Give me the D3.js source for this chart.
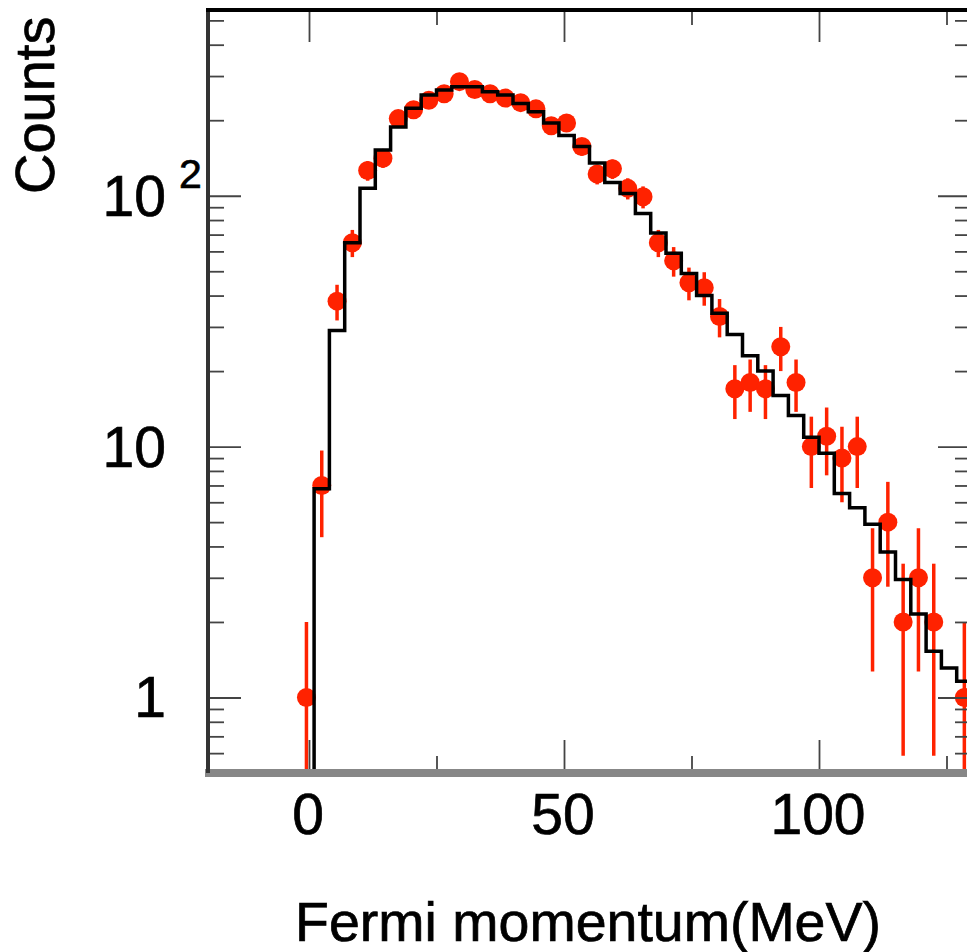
<!DOCTYPE html>
<html>
<head>
<meta charset="utf-8">
<script src="https://cdn.jsdelivr.net/npm/d3@7"></script>
<style>
  body { margin: 0; background: #fff; }
  svg { display: block; }
  text { font-family: "Liberation Sans", Arial, Helvetica, sans-serif; fill: #000; stroke: #000; stroke-width: 0.7; }
</style>
</head>
<body>
<svg id="chart" width="967" height="952"></svg>
<script>
const width = 967;
const height = 952;

// lower edge of each 3 MeV bin
const binLow = [-2, 1, 4, 7, 10, 13, 16, 19, 22, 25, 28, 31, 34, 37, 40, 43, 46, 49, 52, 55, 58, 61,
  64, 67, 70, 73, 76, 79, 82, 85, 88, 91, 94, 97, 100, 103, 106, 109, 112, 115, 118, 121, 124, 127];
const binWidth = 3;

// measured counts (red points, Poisson errors)
const dataCounts = [1, 7, 38, 65, 126, 141, 203, 220, 240, 255, 285, 265, 255, 245, 235, 222, 190,
  195, 157, 122, 128, 107, 99, 65, 55, 45, 43, 33, 17, 18, 17, 25, 18, 10, 11, 9, 10, 3, 5, 2, 3, 2, 0, 1];

// simulation (black histogram)
const simCounts = [0, 6.8, 29, 65, 107, 152, 188, 223, 252, 264, 272, 272, 260, 252, 233, 216, 195,
  174, 157, 135, 113, 102, 85, 71, 59, 49, 40, 34, 28, 23, 20, 16, 13.3, 10.9, 9.4, 6.5, 5.7, 4.9, 3.8,
  2.95, 2.15, 1.53, 1.31, 1.16];

const xTicksMajor = [0, 50, 100];
const xTicksMinor = [25, 75, 125];
const yTicksMajor = [1, 10, 100];
const yTicksMinor = [0.6, 0.7, 0.8, 0.9, 2, 3, 4, 5, 6, 7, 8, 9, 20, 30, 40, 50, 60, 70, 80, 90,
  200, 300, 400, 500];

const frame = { left: 207, right: 972, top: 10, bottom: 773 };

const svg = d3.select("#chart");

/* SCALES */
const x = d3.scaleLinear().domain([-20, 130]).range([frame.left, frame.right]);
const y = d3.scaleLog().domain([0.5, 550]).range([frame.bottom, frame.top]);

function yPos(v) {
  return v > 0 ? y(v) : frame.bottom + 40;
}

svg.append("defs").append("clipPath").attr("id", "plot-clip")
  .append("rect")
  .attr("x", frame.left).attr("y", frame.top)
  .attr("width", frame.right - frame.left)
  .attr("height", frame.bottom - frame.top);

const plot = svg.append("g").attr("clip-path", "url(#plot-clip)");

/* DATA POINTS */
const pts = binLow.map((lo, i) => ({ x: lo + binWidth / 2, n: dataCounts[i] })).filter(d => d.n > 0);

plot.append("g").attr("id", "errors")
  .selectAll("line")
  .data(pts)
  .enter()
  .append("line")
  .attr("x1", d => x(d.x))
  .attr("x2", d => x(d.x))
  .attr("y1", d => yPos(d.n - Math.sqrt(d.n)))
  .attr("y2", d => yPos(d.n + Math.sqrt(d.n)))
  .attr("stroke", "#ff2200")
  .attr("stroke-width", 3.5);

plot.append("g").attr("id", "points")
  .selectAll("circle")
  .data(pts)
  .enter()
  .append("circle")
  .attr("cx", d => x(d.x))
  .attr("cy", d => y(d.n))
  .attr("r", 9.5)
  .attr("fill", "#ff2200");

/* HISTOGRAM */
const steps = binLow.map((lo, i) => [lo, simCounts[i]]);
steps.push([binLow[binLow.length - 1] + binWidth, simCounts[simCounts.length - 1]]);

const stepLine = d3.line()
  .x(d => x(d[0]))
  .y(d => yPos(d[1]))
  .curve(d3.curveStepAfter);

plot.append("path")
  .attr("d", stepLine(steps))
  .attr("fill", "none")
  .attr("stroke", "#000")
  .attr("stroke-width", 3.5);

/* AXES */
function tickAxis(axis, tx, ty) {
  const g = svg.append("g")
    .attr("transform", "translate(" + tx + "," + ty + ")")
    .call(axis);
  g.select(".domain").remove();
  g.selectAll("line").attr("stroke", "#444").attr("stroke-width", 1.8);
  g.selectAll("text").remove();
  return g;
}

tickAxis(d3.axisLeft(y).tickValues(yTicksMajor).tickSize(-34), frame.left, 0);
tickAxis(d3.axisLeft(y).tickValues(yTicksMinor).tickSize(-17), frame.left, 0);
tickAxis(d3.axisRight(y).tickValues(yTicksMajor).tickSize(-34), frame.right, 0);
tickAxis(d3.axisRight(y).tickValues(yTicksMinor).tickSize(-17), frame.right, 0);
tickAxis(d3.axisBottom(x).tickValues(xTicksMajor).tickSize(-33), 0, frame.bottom);
tickAxis(d3.axisBottom(x).tickValues(xTicksMinor).tickSize(-17), 0, frame.bottom);
tickAxis(d3.axisTop(x).tickValues(xTicksMajor).tickSize(-32), 0, frame.top);
tickAxis(d3.axisTop(x).tickValues(xTicksMinor).tickSize(-15), 0, frame.top);

// frame lines
svg.append("line")
  .attr("x1", frame.left - 2).attr("x2", frame.right)
  .attr("y1", frame.bottom).attr("y2", frame.bottom)
  .attr("stroke", "#878787").attr("stroke-width", 8);
svg.append("line")
  .attr("x1", frame.left + 1).attr("x2", frame.left + 1)
  .attr("y1", frame.top).attr("y2", frame.bottom)
  .attr("stroke", "#333").attr("stroke-width", 4);
svg.append("line")
  .attr("x1", frame.left - 1).attr("x2", frame.right)
  .attr("y1", frame.top).attr("y2", frame.top)
  .attr("stroke", "#000").attr("stroke-width", 4);
svg.append("line")
  .attr("x1", frame.right).attr("x2", frame.right)
  .attr("y1", frame.top).attr("y2", frame.bottom)
  .attr("stroke", "#333").attr("stroke-width", 4);

/* TICK LABELS */
svg.append("g").selectAll("text")
  .data(xTicksMajor)
  .enter()
  .append("text")
  .attr("x", d => x(d) - 1)
  .attr("y", 834)
  .attr("text-anchor", "middle")
  .attr("font-size", 57)
  .text(d => d);

const yLabels = svg.append("g");
yTicksMajor.forEach(v => {
  const t = yLabels.append("text")
    .attr("x", 166)
    .attr("y", y(v) + 20)
    .attr("text-anchor", "end")
    .attr("font-size", 57);
  if (v === 100) {
    t.text("10");
    yLabels.append("text")
      .attr("x", 179)
      .attr("y", y(v) - 8)
      .attr("font-size", 41)
      .text("2");
  } else {
    t.text(v);
  }
});

/* AXIS TITLES */
svg.append("text")
  .attr("x", 881)
  .attr("y", 941)
  .attr("text-anchor", "end")
  .attr("font-size", 55.5)
  .text("Fermi momentum(MeV)");

svg.append("text")
  .attr("transform", "translate(54,194) rotate(-90)")
  .attr("text-anchor", "start")
  .attr("font-size", 56)
  .text("Counts");
</script>
</body>
</html>
